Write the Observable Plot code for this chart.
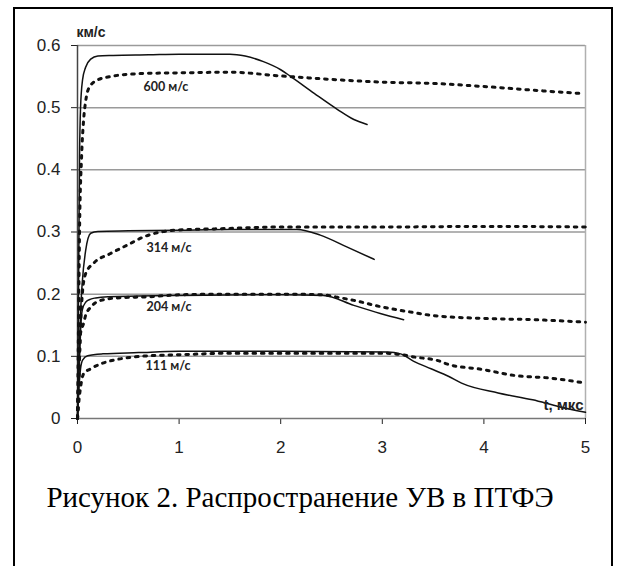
<!DOCTYPE html>
<html><head><meta charset="utf-8">
<script src="https://cdn.jsdelivr.net/npm/d3@7"></script>
<script src="https://cdn.jsdelivr.net/npm/@observablehq/plot@0.6"></script>
<style>
body{margin:0;background:#fff;width:617px;height:566px;overflow:hidden;position:relative;}
#frame{position:absolute;left:13px;top:7px;width:596px;height:600px;border:2px solid #000;}
#chart{position:absolute;left:0;top:0;}
#caption{position:absolute;left:0;width:600px;top:483px;text-align:center;font-family:"Liberation Serif","Times New Roman",serif;font-size:29px;line-height:29px;color:#000;white-space:nowrap;}
</style></head>
<body>
<div id="frame"></div>
<div id="chart"></div>
<div id="caption">Рисунок 2. Распространение УВ в ПТФЭ</div>
<script>
// axis ticks
const xTicks = [0, 1, 2, 3, 4, 5];
const yTicks = [0, 0.1, 0.2, 0.3, 0.4, 0.5, 0.6];
const yLabel = "км/с";
const xLabel = "t, мкс";

// curve labels
const curveNames = ["600 м/с", "314 м/с", "204 м/с", "111 м/с"];
const curveLabelT = [0.87, 0.9, 0.9, 0.89];
const curveLabelV = [0.533, 0.275, 0.18, 0.084];

// calculated (solid) curves
const solid600T = [0,0.01,0.02,0.03,0.05,0.08,0.13,0.2,0.35,0.7,1.0,1.5,1.65,1.83,2.0,2.1,2.33,2.56,2.72,2.85];
const solid600V = [0,0.2,0.42,0.5,0.545,0.565,0.578,0.583,0.584,0.585,0.586,0.586,0.583,0.574,0.561,0.550,0.523,0.497,0.481,0.473];
const solid314T = [0,0.015,0.03,0.046,0.08,0.13,0.2,0.5,1.0,1.5,2.16,2.39,2.65,2.92];
const solid314V = [0,0.1,0.17,0.217,0.27,0.298,0.301,0.302,0.303,0.304,0.304,0.295,0.276,0.256];
const solid204T = [0,0.015,0.03,0.046,0.08,0.13,0.18,0.3,0.6,1.0,2.0,2.42,2.72,2.98,3.21];
const solid204V = [0,0.07,0.14,0.174,0.187,0.192,0.194,0.196,0.197,0.198,0.199,0.198,0.182,0.169,0.159];
const solid111T = [0,0.015,0.03,0.05,0.1,0.25,0.6,1.0,2.0,3.05,3.18,3.31,3.48,3.65,3.78,4.14,4.48,4.74,5.0];
const solid111V = [0,0.05,0.08,0.094,0.101,0.104,0.106,0.108,0.108,0.107,0.104,0.092,0.08,0.068,0.057,0.041,0.030,0.019,0.01];

// experimental (dotted) curves
const dot600T = [0,0.01,0.02,0.04,0.06,0.08,0.11,0.19,0.32,0.65,1.0,1.5,2.0,2.65,3.0,3.5,4.0,4.58,4.94];
const dot600V = [0,0.15,0.3,0.42,0.48,0.51,0.531,0.544,0.55,0.555,0.556,0.557,0.551,0.544,0.541,0.539,0.534,0.527,0.523];
const dot314T = [0,0.015,0.03,0.05,0.08,0.16,0.32,0.49,0.65,0.82,1.08,1.35,2.0,3.0,4.0,5.0];
const dot314V = [0,0.08,0.15,0.205,0.233,0.25,0.265,0.279,0.292,0.3,0.304,0.305,0.308,0.308,0.309,0.308];
const dot204T = [0,0.015,0.03,0.06,0.08,0.13,0.23,0.39,0.72,1.0,1.5,2.0,2.42,2.56,2.72,2.98,3.25,3.48,3.98,4.48,5.0];
const dot204V = [0,0.07,0.137,0.153,0.166,0.179,0.19,0.194,0.196,0.199,0.2,0.2,0.199,0.195,0.19,0.18,0.172,0.166,0.161,0.159,0.155];
const dot111T = [0,0.015,0.03,0.06,0.13,0.23,0.39,0.62,1.08,1.5,2.0,2.5,3.0,3.18,3.31,3.55,3.65,3.98,4.31,4.65,5.0];
const dot111V = [0,0.03,0.05,0.072,0.08,0.088,0.095,0.1,0.103,0.105,0.105,0.105,0.105,0.103,0.099,0.093,0.087,0.079,0.069,0.065,0.057];

const toRows = (name, ts, vs) => ts.map((t, i) => ({series: name, t, v: vs[i]}));
const solidRows = [
  ...toRows("600", solid600T, solid600V),
  ...toRows("314", solid314T, solid314V),
  ...toRows("204", solid204T, solid204V),
  ...toRows("111", solid111T, solid111V)
];
const dotRows = [
  ...toRows("600", dot600T, dot600V),
  ...toRows("314", dot314T, dot314V),
  ...toRows("204", dot204T, dot204V),
  ...toRows("111", dot111T, dot111V)
];
const labelRows = curveNames.map((n, i) => ({n, t: curveLabelT[i], v: curveLabelV[i]}));
const gridVals = yTicks.filter(d => d > 0);

const chart = Plot.plot({
  width: 617, height: 470,
  marginLeft: 77, marginRight: 32, marginTop: 45, marginBottom: 52,
  style: {background: "transparent", fontFamily: "Liberation Sans, Arial, sans-serif", fontSize: "17px", color: "#222", overflow: "visible"},
  x: {domain: [0, 5], ticks: xTicks, tickSize: 6, tickPadding: 16, tickFormat: d => String(d), label: null},
  y: {domain: [0, 0.6], ticks: yTicks, tickSize: 6, tickPadding: 11, tickFormat: d => d === 0 ? "0" : d.toFixed(1), label: null},
  marks: [
    Plot.ruleY(gridVals, {stroke: "#9a9a9a", strokeWidth: 1.5}),
    Plot.ruleX([5], {stroke: "#b0b0b0", strokeWidth: 1.5}),
    Plot.ruleY([0], {stroke: "#777", strokeWidth: 1.5}),
    Plot.ruleX([0], {stroke: "#444", strokeWidth: 1.5}),
    Plot.line(dotRows, {x: "t", y: "v", z: "series", stroke: "#111", strokeWidth: 3, strokeDasharray: "2.6,5.8", curve: "monotone-x"}),
    Plot.line(solidRows, {x: "t", y: "v", z: "series", stroke: "#111", strokeWidth: 1.5, curve: "monotone-x"}),
    Plot.text(labelRows, {x: "t", y: "v", text: "n", fontFamily: "Lato, Open Sans, sans-serif", fontWeight: "bold", fontSize: 12.5, fill: "#222"}),
    Plot.text([yLabel], {x: 0, y: 0.6, text: d => d, dy: -12.5, dx: -1, textAnchor: "start", fontWeight: "bold", fontSize: 14, fill: "#222"}),
    Plot.text([xLabel], {x: 5, y: 0.021, text: d => d, dx: -2, textAnchor: "end", fontWeight: "bold", fontSize: 15, fill: "#222"})
  ]
});
document.getElementById("chart").appendChild(chart);
</script>
</body></html>
